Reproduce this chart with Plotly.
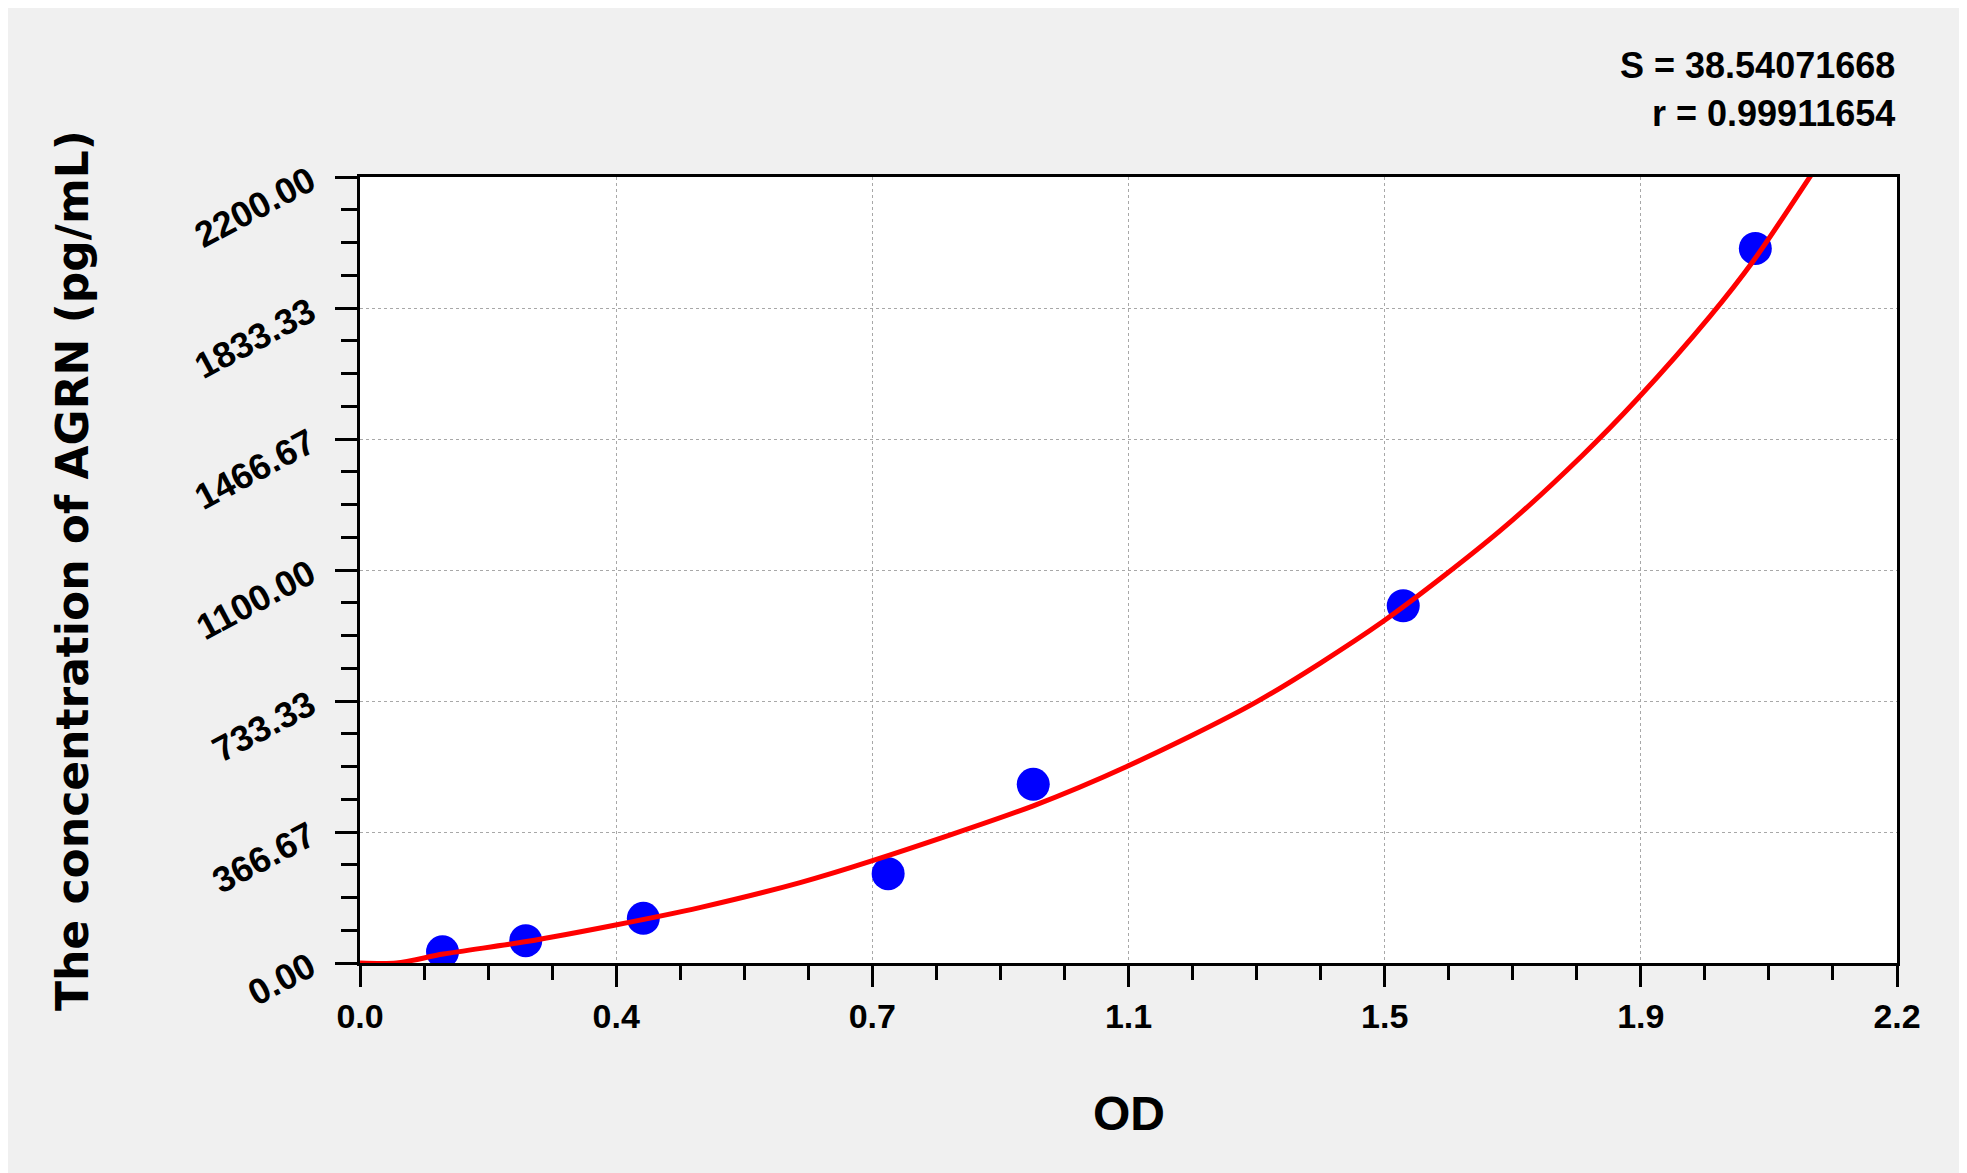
import plotly.graph_objects as go

# Points standards : DO mesurée / concentration AGRN
od = [0.120, 0.241, 0.412, 0.768, 0.979, 1.517, 2.029]
conc = [31.25, 62.5, 125, 250, 500, 1000, 2000]

# Courbe d'ajustement
fit_od = [0.0, 0.053, 0.121, 0.242, 0.368, 0.494, 0.640, 0.743, 0.979,
          1.115, 1.303, 1.487, 1.658, 1.777, 1.858, 1.963, 2.026, 2.113]
fit_conc = [0, 0, 25, 60, 105, 155, 225, 285, 440,
            550, 730, 955, 1210, 1420, 1580, 1810, 1965, 2214]

x_labels = ["0.0", "0.4", "0.7", "1.1", "1.5", "1.9", "2.2"]
y_labels = ["0.00", "366.67", "733.33", "1100.00", "1466.67", "1833.33", "2200.00"]
x_max = 2.235
y_max = 2200

stats = ["S = 38.54071668", "r = 0.99911654"]

FONT = "Liberation Sans"

x_ticks = [x_max * k / 6 for k in range(7)]
y_ticks = [y_max * k / 6 for k in range(7)]

fig = go.Figure()

fig.add_trace(go.Scatter(
    x=od, y=conc,
    mode="markers",
    marker=dict(color="#0000FF", size=33, line=dict(width=0)),
    name="Standards"
))
fig.add_trace(go.Scatter(
    x=fit_od, y=fit_conc,
    mode="lines",
    line=dict(color="#FF0000", width=5, shape="spline", smoothing=0.8),
    name="Fit"
))

axis_common = dict(
    showline=True, linewidth=3, linecolor="black", mirror=True,
    ticks="outside", tickwidth=3, tickcolor="black",
    showgrid=True, gridcolor="#A8A8A8", gridwidth=1.2, griddash="dot",
    zeroline=False,
)

fig.update_xaxes(
    range=[0, x_max],
    tickmode="array", tickvals=x_ticks, ticktext=x_labels,
    ticklen=21,
    tickfont=dict(family=FONT, size=34, color="black", weight="bold"),
    minor=dict(tickmode="linear", tick0=0, dtick=x_max / 24,
               ticks="outside", ticklen=14, tickwidth=3, tickcolor="black",
               showgrid=False),
    **axis_common
)
fig.update_yaxes(
    range=[0, y_max],
    tickmode="array", tickvals=y_ticks, ticktext=y_labels,
    ticklen=22, tickangle=-28, ticklabelstandoff=18,
    tickfont=dict(family=FONT, size=36, color="black", weight="bold"),
    minor=dict(tickmode="linear", tick0=0, dtick=y_max / 24,
               ticks="outside", ticklen=16, tickwidth=3, tickcolor="black",
               showgrid=False),
    **axis_common
)

# titres des axes et statistiques
fig.add_annotation(
    text="OD", xref="paper", yref="paper", x=0.5, y=-0.191,
    xanchor="center", yanchor="middle", showarrow=False,
    font=dict(family=FONT, size=48, color="black", weight="bold")
)
fig.add_annotation(
    text="The concentration of AGRN (pg/mL)", xref="paper", yref="paper",
    x=-0.1874, y=0.5, textangle=-90,
    xanchor="center", yanchor="middle", showarrow=False,
    font=dict(family="DejaVu Sans", size=44, color="black", weight="bold")
)
fig.add_annotation(
    text=stats[0], xref="paper", yref="paper", x=1.0, y=1.1418,
    xanchor="right", yanchor="middle", showarrow=False,
    font=dict(family=FONT, size=36, color="black", weight="bold")
)
fig.add_annotation(
    text=stats[1], xref="paper", yref="paper", x=1.0, y=1.0814,
    xanchor="right", yanchor="middle", showarrow=False,
    font=dict(family=FONT, size=36, color="black", weight="bold")
)

fig.update_layout(
    width=1967, height=1173,
    margin=dict(l=352, r=78, t=169, b=218),
    paper_bgcolor="#F0F0F0",
    plot_bgcolor="white",
    showlegend=False,
)

fig.write_html("out.html")
